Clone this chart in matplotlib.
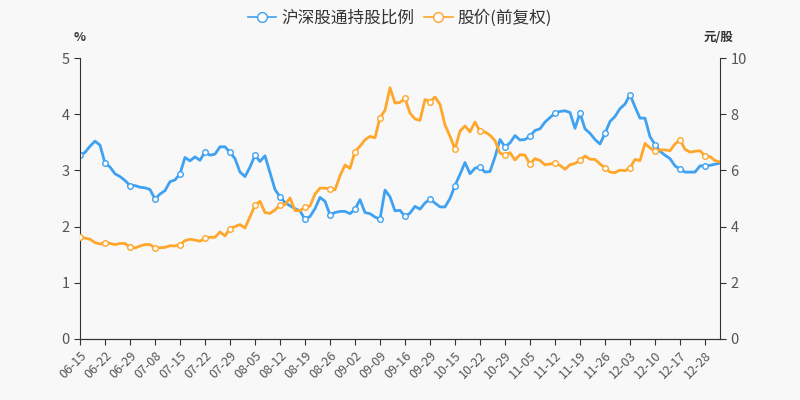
import matplotlib
matplotlib.use("Agg")
import matplotlib.pyplot as plt
from matplotlib.lines import Line2D
import numpy as np

plt.rcParams["font.family"] = ["Noto Sans CJK SC", "DejaVu Sans"]

# 沪深股通持股比例 (%), one value per trading day
ratio = [
    3.27, 3.32, 3.43, 3.52, 3.45, 3.13, 3.06, 2.94, 2.89, 2.82,
    2.73, 2.73, 2.70, 2.69, 2.66, 2.49, 2.58, 2.64, 2.80, 2.83,
    2.94, 3.23, 3.17, 3.24, 3.18, 3.33, 3.27, 3.29, 3.42, 3.42,
    3.32, 3.21, 2.97, 2.89, 3.06, 3.27, 3.16, 3.26, 2.96, 2.66,
    2.53, 2.43, 2.37, 2.32, 2.28, 2.13, 2.18, 2.32, 2.52, 2.45,
    2.21, 2.25, 2.27, 2.27, 2.23, 2.31, 2.48, 2.25, 2.23, 2.17,
    2.13, 2.65, 2.53, 2.28, 2.29, 2.18, 2.24, 2.36, 2.31, 2.42,
    2.49, 2.42, 2.35, 2.35, 2.50, 2.73, 2.93, 3.14, 2.94, 3.04,
    3.06, 2.97, 2.98, 3.24, 3.55, 3.42, 3.49, 3.62, 3.54, 3.55,
    3.61, 3.71, 3.74, 3.86, 3.94, 4.02, 4.05, 4.06, 4.03, 3.75,
    4.02, 3.74, 3.66, 3.55, 3.47, 3.66, 3.87, 3.96, 4.10, 4.18,
    4.35, 4.13, 3.93, 3.93, 3.60, 3.46, 3.34, 3.27, 3.21, 3.08,
    3.02, 2.97, 2.97, 2.97, 3.08, 3.08, 3.09, 3.11, 3.13,
]

# 股价(前复权) (元/股)
price = [
    3.63, 3.59, 3.55, 3.43, 3.38, 3.43, 3.40, 3.36, 3.40, 3.40,
    3.26, 3.24, 3.31, 3.36, 3.36, 3.24, 3.25, 3.26, 3.32, 3.31,
    3.36, 3.50, 3.55, 3.52, 3.48, 3.59, 3.62, 3.62, 3.81, 3.67,
    3.93, 4.00, 4.07, 3.95, 4.35, 4.76, 4.90, 4.50, 4.47, 4.59,
    4.77, 4.78, 5.02, 4.57, 4.57, 4.69, 4.73, 5.16, 5.37, 5.37,
    5.35, 5.31, 5.81, 6.19, 6.07, 6.67, 6.86, 7.09, 7.21, 7.16,
    7.88, 8.14, 8.94, 8.40, 8.42, 8.56, 8.04, 7.83, 7.78, 8.52,
    8.45, 8.61, 8.35, 7.62, 7.21, 6.76, 7.40, 7.58, 7.37, 7.72,
    7.39, 7.37, 7.25, 7.06, 6.61, 6.56, 6.63, 6.37, 6.56, 6.54,
    6.23, 6.42, 6.35, 6.20, 6.23, 6.25, 6.18, 6.04, 6.20, 6.25,
    6.36, 6.51, 6.40, 6.39, 6.23, 6.09, 5.94, 5.92, 6.01, 5.99,
    6.09, 6.39, 6.35, 6.96, 6.80, 6.68, 6.73, 6.73, 6.70, 6.94,
    7.09, 6.75, 6.65, 6.68, 6.70, 6.51, 6.49, 6.35, 6.30,
]

# labels shown on every 5th trading day
tick_labels = [
    "06-15", "06-22", "06-29", "07-08", "07-15", "07-22", "07-29",
    "08-05", "08-12", "08-19", "08-26", "09-02", "09-09", "09-16",
    "09-29", "10-15", "10-22", "10-29", "11-05", "11-12", "11-19",
    "11-26", "12-03", "12-10", "12-17", "12-28",
]

BLUE = "#3fa1f1"
ORANGE = "#ffa62b"
BG = "#f8f8f8"
AXIS = "#333333"

x = np.arange(len(ratio))

fig = plt.figure(figsize=(8, 4), dpi=100, facecolor=BG)
ax = fig.add_axes([0.10, 0.1525, 0.80, 0.7025])
ax.set_facecolor(BG)
ax2 = ax.twinx()

line_kw = dict(lw=2, marker="o", markevery=5, markersize=4,
               markerfacecolor="white", markeredgewidth=1)
ax.plot(x, ratio, color=BLUE, markeredgecolor=BLUE, **line_kw)
ax2.plot(x, price, color=ORANGE, markeredgecolor=ORANGE, **line_kw)

ax.set_xlim(0, len(ratio) - 1)
ax.set_ylim(0, 5)
ax2.set_ylim(0, 10)
ax.set_yticks(np.arange(0, 6, 1))
ax2.set_yticks(np.arange(0, 11, 2))

ax.set_xticks(x[::5])
ax.set_xticklabels(tick_labels, rotation=45, ha="right", rotation_mode="anchor",
                   fontsize=9, color="#555555")

for a in (ax, ax2):
    a.spines["top"].set_visible(False)
    for side in ("left", "right", "bottom"):
        a.spines[side].set_color(AXIS)
    a.tick_params(axis="y", colors="#555555", labelsize=10.5, length=4, color=AXIS)
ax.tick_params(axis="x", length=4, color=AXIS)
ax2.spines["left"].set_visible(False)
ax.spines["right"].set_visible(False)

fig.text(0.10, 0.907, "%", ha="center", va="center", fontsize=9,
         color="#333333", fontweight="bold")
fig.text(0.898, 0.907, "元/股", ha="center", va="center", fontsize=9,
         color="#333333", fontweight="bold")

# legend handles: thin line with a hollow circle, like the source chart
handles = [
    Line2D([], [], color=c, lw=1.2, marker="o", markersize=7,
           markerfacecolor="white", markeredgecolor=c, markeredgewidth=1)
    for c in (BLUE, ORANGE)
]
fig.legend(handles, ["沪深股通持股比例", "股价(前复权)"], loc="upper center",
           bbox_to_anchor=(0.5, 1.015), ncol=2, frameon=False, fontsize=12,
           handlelength=1.7, columnspacing=0.6, handletextpad=0.3,
           labelcolor="#333333")

fig.savefig("out.png", dpi=100, facecolor=fig.get_facecolor())
